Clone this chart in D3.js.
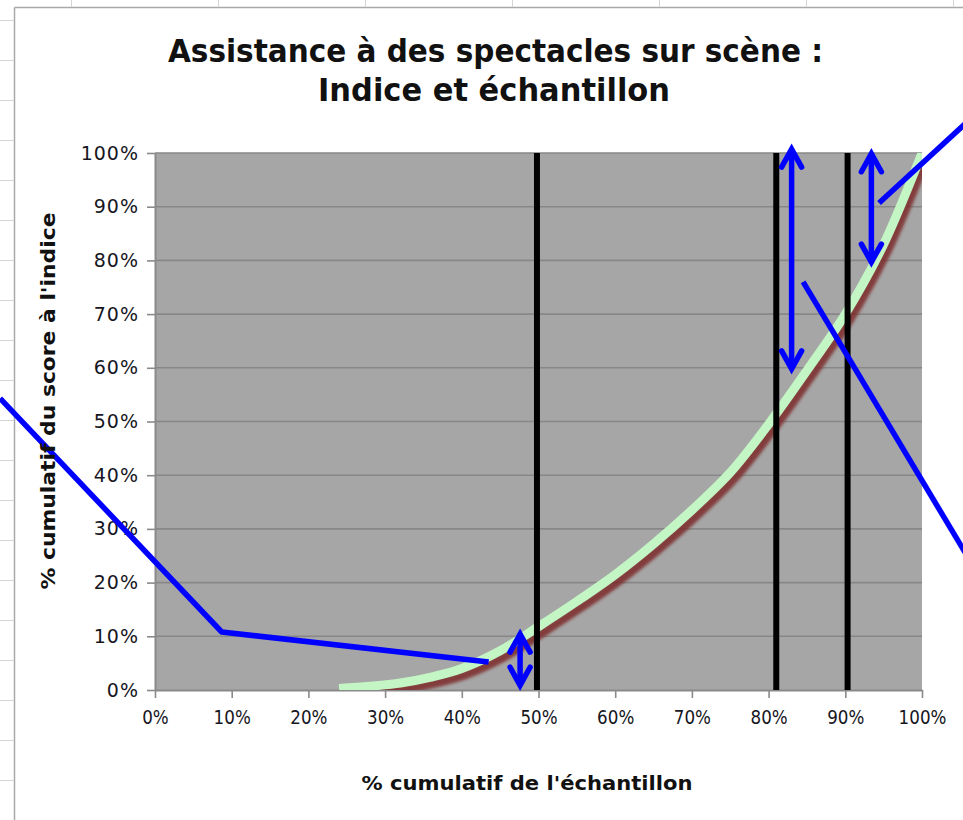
<!DOCTYPE html>
<html><head><meta charset="utf-8">
<script src="https://cdn.jsdelivr.net/npm/d3@7/dist/d3.min.js"></script>
<style>html,body{margin:0;padding:0;background:#fff;} svg{display:block;}</style>
</head><body>
<svg id="chart" width="963" height="820"></svg>
<script>
// ---------- data ----------
const titleLines = ["Assistance à des spectacles sur scène :", "Indice et échantillon"];
const xAxisTitle = "% cumulatif de l'échantillon";
const yAxisTitle = "% cumulatif du score à l'indice";
const tickValues = [0, 10, 20, 30, 40, 50, 60, 70, 80, 90, 100];

// cumulative % of sample (x) vs cumulative % of index score (y)
const samplePct = [24, 28, 32, 36, 40, 45, 50, 55, 60, 65, 70, 75, 80, 85, 90, 95, 100];
const scorePct  = [0.3, 0.7, 1.3, 2.4, 4.0, 7.3, 11.8, 16.5, 21.5, 27.2, 33.5, 40.5, 49.5, 59.5, 70, 83, 100];

// vertical cut-off lines (x, %)
const cutoffs = [49.8, 81.0, 90.3];

// double-headed arrows (x, top, bottom in %)
const arrowX      = [47.6, 83.0, 93.4];
const arrowTop    = [10.6, 100.9, 100.05];
const arrowBottom = [0.7, 59.6, 79.5];

// callout lines (in % coordinates, may extend beyond the axes)
const calloutLeftX  = [-20.2, 8.7, 43.5];
const calloutLeftY  = [54.3, 10.8, 5.2];
const calloutTopX   = [94.4, 107.5];
const calloutTopY   = [90.7, 107.9];
const calloutDiagX  = [84.5, 106.5];
const calloutDiagY  = [76.0, 23.5];

// ---------- setup ----------
const svg = d3.select("#chart");
const W = 963, H = 820;
const plot = {left: 155, right: 922, top: 153, bottom: 690};
const x = d3.scaleLinear().domain([0, 100]).range([plot.left, plot.right]);
const y = d3.scaleLinear().domain([0, 100]).range([plot.bottom, plot.top]);

const defs = svg.append("defs");
defs.append("clipPath").attr("id", "plotClip")
  .append("rect").attr("x", plot.left).attr("y", plot.top)
  .attr("width", plot.right - plot.left).attr("height", plot.bottom - plot.top);
const blur = defs.append("filter").attr("id", "shadowBlur")
  .attr("x", "-10%").attr("y", "-10%").attr("width", "120%").attr("height", "120%");
blur.append("feGaussianBlur").attr("stdDeviation", 1.6);

// spreadsheet background: chart frame + cell grid stubs
const bg = svg.append("g");
bg.append("line").attr("x1", 14.5).attr("x2", 14.5).attr("y1", 7.5).attr("y2", H)
  .attr("stroke", "#a9a9a9").attr("stroke-width", 1.5);
bg.append("line").attr("x1", 14.5).attr("x2", W).attr("y1", 7.5).attr("y2", 7.5)
  .attr("stroke", "#a9a9a9").attr("stroke-width", 1.5);
bg.selectAll(".rowstub").data(d3.range(20, H, 40)).join("line")
  .attr("x1", 0).attr("x2", 14).attr("y1", d => d + 0.5).attr("y2", d => d + 0.5)
  .attr("stroke", "#d4d4d4").attr("stroke-width", 1);
bg.selectAll(".colstub").data(d3.range(71, W, 147)).join("line")
  .attr("y1", 0).attr("y2", 7).attr("x1", d => d + 0.5).attr("x2", d => d + 0.5)
  .attr("stroke", "#d4d4d4").attr("stroke-width", 1);

// plot background
svg.append("rect").attr("x", plot.left).attr("y", plot.top)
  .attr("width", plot.right - plot.left).attr("height", plot.bottom - plot.top)
  .attr("fill", "#a6a6a6");

// horizontal gridlines
svg.append("g").selectAll("line").data(tickValues.filter(d => d > 0)).join("line")
  .attr("x1", plot.left).attr("x2", plot.right)
  .attr("y1", d => y(d)).attr("y2", d => y(d))
  .attr("stroke", "#878787").attr("stroke-width", 1.6);

// axes
const yAxis = svg.append("g").attr("transform", `translate(${plot.left},0)`)
  .call(d3.axisLeft(y).tickValues(tickValues).tickFormat(d => d + "%").tickSize(8).tickSizeOuter(0).tickPadding(8));
const xAxis = svg.append("g").attr("transform", `translate(0,${plot.bottom})`)
  .call(d3.axisBottom(x).tickValues(tickValues).tickFormat(d => d + "%").tickSize(8).tickSizeOuter(0).tickPadding(13));
[yAxis, xAxis].forEach(g => {
  g.select(".domain").attr("stroke", "#8a8a8a").attr("stroke-width", 2);
  g.selectAll(".tick line").attr("stroke", "#8a8a8a").attr("stroke-width", 1.6);
  g.selectAll(".tick text").attr("fill", "#161622")
    .style("font-family", "'DejaVu Sans', Verdana, sans-serif").style("font-size", "19px");
});
yAxis.selectAll(".tick text").style("letter-spacing", "1px");
xAxis.selectAll(".tick text").each(function() {
  const len = this.getComputedTextLength();
  d3.select(this).attr("textLength", len * 0.88).attr("lengthAdjust", "spacingAndGlyphs");
});

// curve (shadow + line)
const pts = samplePct.map((v, i) => [v, scorePct[i]]);
const line = d3.line().x(d => x(d[0])).y(d => y(d[1])).curve(d3.curveCatmullRom.alpha(0.5));
const curveG = svg.append("g").attr("clip-path", "url(#plotClip)");
curveG.append("path").datum(pts).attr("d", line)
  .attr("transform", "translate(4,6)")
  .attr("fill", "none").attr("stroke", "#7d2b2b").attr("stroke-opacity", 0.85)
  .attr("stroke-width", 9).attr("filter", "url(#shadowBlur)");
curveG.append("path").datum(pts).attr("d", line)
  .attr("fill", "none").attr("stroke", "#c4f5c4").attr("stroke-width", 9);

// cut-off vertical lines
svg.append("g").selectAll("line").data(cutoffs).join("line")
  .attr("x1", d => x(d)).attr("x2", d => x(d))
  .attr("y1", plot.top).attr("y2", plot.bottom)
  .attr("stroke", "#000").attr("stroke-width", 6);

// callouts
const blue = "#0000ff";
const ann = svg.append("g").attr("fill", "none").attr("stroke", blue).attr("stroke-width", 5.5);
const polys = [
  calloutLeftX.map((v, i) => [v, calloutLeftY[i]]),
  calloutTopX.map((v, i) => [v, calloutTopY[i]]),
  calloutDiagX.map((v, i) => [v, calloutDiagY[i]])
];
const pline = d3.line().x(d => x(d[0])).y(d => y(d[1]));
ann.selectAll("path.callout").data(polys).join("path").attr("class", "callout")
  .attr("d", pline).attr("stroke-linejoin", "round");

// double-headed arrows
const headW = 10, headL = 19;
arrowX.forEach((ax, i) => {
  const px = x(ax), pt = y(arrowTop[i]), pb = y(arrowBottom[i]);
  const g = ann.append("g").attr("stroke-linecap", "round").attr("stroke-linejoin", "miter");
  g.append("line").attr("x1", px).attr("x2", px).attr("y1", pt + 2).attr("y2", pb - 2);
  g.append("path").attr("d", `M${px - headW},${pt + headL} L${px},${pt + 1} L${px + headW},${pt + headL}`);
  g.append("path").attr("d", `M${px - headW},${pb - headL} L${px},${pb - 1} L${px + headW},${pb - headL}`);
});

// titles
const title = svg.append("g").attr("fill", "#111")
  .style("font-family", "'DejaVu Sans', Verdana, sans-serif").style("font-weight", "bold");
title.append("text").attr("x", 495.5).attr("y", 62).attr("text-anchor", "middle")
  .style("font-size", "32px").attr("textLength", 655).attr("lengthAdjust", "spacingAndGlyphs")
  .text(titleLines[0]);
title.append("text").attr("x", 494).attr("y", 101).attr("text-anchor", "middle")
  .style("font-size", "32px").attr("textLength", 352).attr("lengthAdjust", "spacingAndGlyphs")
  .text(titleLines[1]);

svg.append("text").attr("x", 527).attr("y", 790).attr("text-anchor", "middle")
  .attr("fill", "#111").style("font-family", "'DejaVu Sans', Verdana, sans-serif")
  .style("font-weight", "bold").style("font-size", "20px")
  .attr("textLength", 331).attr("lengthAdjust", "spacingAndGlyphs")
  .text(xAxisTitle);

svg.append("text").attr("transform", "translate(55,401) rotate(-90)").attr("text-anchor", "middle")
  .attr("fill", "#111").style("font-family", "'DejaVu Sans', Verdana, sans-serif")
  .style("font-weight", "bold").style("font-size", "20px")
  .attr("textLength", 377).attr("lengthAdjust", "spacingAndGlyphs")
  .text(yAxisTitle);
</script>
</body></html>
